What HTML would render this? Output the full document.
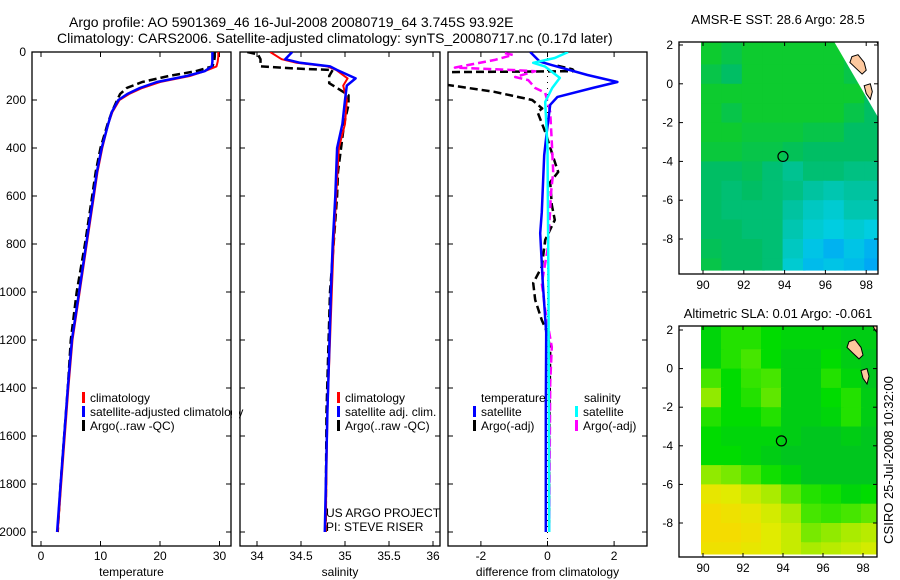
<!DOCTYPE html>
<html><head><meta charset="utf-8"><style>
html,body{margin:0;padding:0;background:#fff;}
svg{display:block;font-family:"Liberation Sans",sans-serif;}
text{font-size:12px;fill:#000;}
</style></head><body>
<svg id="fig" width="900" height="580" viewBox="0 0 900 580">
<defs>
<clipPath id="c1"><rect x="32" y="52" width="199" height="494"/></clipPath>
<clipPath id="c2"><rect x="240" y="52" width="200" height="494"/></clipPath>
<clipPath id="c3"><rect x="448" y="52" width="199" height="494"/></clipPath>
<clipPath id="m1"><rect x="679" y="42" width="199" height="232"/></clipPath>
<clipPath id="m2"><rect x="679" y="326" width="198" height="231"/></clipPath>
</defs>
<text x="69" y="27" style="font-size:14px">Argo profile: AO 5901369_46 16-Jul-2008 20080719_64 3.745S 93.92E</text>
<text x="57" y="43" style="font-size:14px">Climatology: CARS2006. Satellite-adjusted climatology: synTS_20080717.nc (0.17d later)</text>
<text x="778" y="24" text-anchor="middle" style="font-size:13px">AMSR-E SST: 28.6 Argo: 28.5</text>
<text x="778" y="318" text-anchor="middle" style="font-size:13px">Altimetric SLA: 0.01 Argo: -0.061</text>
<text transform="translate(893,460) rotate(-90)" text-anchor="middle" style="font-size:13px">CSIRO 25-Jul-2008 10:32:00</text>
<g id="g"></g>
</svg>
<script>
// ---- profile data ----
const tDepth = [0,20,40,60,80,100,125,150,175,200,250,300,400,500,600,800,1000,1200,1400,1600,1800,2000];
const tClim = [29.8,29.8,29.7,29.5,27.5,25,20,17,14.8,13.2,12,11.3,10.3,9.5,8.9,7.7,6.5,5.3,4.6,4.0,3.4,2.8];
const tSat = [28.8,28.8,28.8,28.7,27.5,24.5,19.5,16.6,14.5,13,11.9,11.3,10.2,9.4,8.8,7.6,6.4,5.2,4.5,3.9,3.3,2.7];
const tArgo = [29.2,29.2,29.1,28.8,26,21.5,17,14.4,13.3,12.8,11.9,11.2,10.0,9.2,8.6,7.4,6.0,5.0,4.5,3.9,3.3,2.8];
const sDepth = [0,30,45,60,75,110,140,200,300,400,600,800,1000,1500,2000];
const sSat = [34.40,34.32,34.49,34.83,34.91,35.12,35.02,35.0,34.97,34.91,34.89,34.86,34.84,34.80,34.77];
const sClim = [34.15,34.28,34.45,34.80,34.90,35.03,34.98,35.02,35.0,34.93,34.90,34.87,34.85,34.80,34.78];
const sArgoDepth = [0,10,30,60,70,75,100,130,150,180,220,300,500,600,800,1000,1500,2000];
const sArgo = [33.89,34.01,34.04,34.04,34.5,34.86,34.82,34.82,34.91,35.04,35.04,34.99,34.92,34.91,34.87,34.83,34.79,34.78];
const dTSatDepth = [0,40,55,96,125,150,187,220,333,430,667,755,963,1170,1500,2000];
const dTSat = [-0.52,-0.23,0.14,1.2,2.1,1.35,0.3,0.08,-0.02,-0.1,-0.17,-0.22,-0.14,-0.04,-0.05,-0.05];
const dSSatDepth = [0,25,45,60,108,150,208,400,1000,2000];
const dSSat = [0.62,0.22,-0.43,-0.08,0.37,0.14,-0.07,0,0.03,0.05];
const dTArgoDepth = [57,72,80,84,133,166,200,235,250,333,458,500,542,637,700,783,895,963,1033,1117,1171,1242,1600,2000];
const dTArgo = [0.3,0.75,0.8,-3.2,-3.2,-1.6,-0.46,-0.16,-0.3,-0.07,0.22,0.32,0.08,0.13,0.22,-0.07,-0.17,-0.43,-0.37,-0.17,0,0.08,0.05,0.05];
const dSArgoDepth = [5,12,33,65,75,80,104,117,150,170,250,375,500,596,660,825,963,1075,1229,1379,2000];
const dSArgo = [-1.28,-1.04,-1.58,-2.78,-1.06,-0.37,-0.97,-0.58,-0.37,-0.07,0.08,0.13,0.17,0.1,0.08,0,-0.17,-0.07,0.13,0.08,0.05];
const depthTicks = [0,200,400,600,800,1000,1200,1400,1600,1800,2000];
const tTicks = [0,10,20,30];
const sTicks = [34,34.5,35,35.5,36];
const dTicks = [-2,0,2];
// ---- map data (rows lat 2..-9.6, cols lon 90..98) ----
const sstGrid = [
[0.1,0.2,0.1,0.1,0.1,0.1,null,null,null],
[0.2,0.3,0.1,0.1,0.1,0.1,0.1,null,null],
[0.1,0.1,0.1,0.1,0.1,0.1,0.1,0.1,null],
[0.1,0.2,0.1,0.1,0.1,0.1,0.1,0.2,null],
[0.1,0.1,0.15,0.15,0.15,0.2,0.2,0.3,0.3],
[0.15,0.15,0.2,0.2,0.25,0.3,0.3,0.3,0.3],
[0.3,0.3,0.25,0.35,0.45,0.35,0.35,0.4,0.4],
[0.3,0.35,0.3,0.35,0.4,0.5,0.55,0.5,0.5],
[0.3,0.35,0.35,0.35,0.5,0.6,0.65,0.55,0.55],
[0.3,0.3,0.35,0.35,0.55,0.65,0.7,0.65,0.7],
[0.25,0.3,0.3,0.35,0.6,0.75,0.85,0.75,0.85],
[0.2,0.3,0.3,0.35,0.65,0.8,0.75,0.8,0.9]];
const sstMissingRow = [0.1,0.1,0.1,0.1,0.1,0.1,0.1,0.2,0.3];
const slaGrid = [
[0.15,0.3,0.3,0.2,0.15,0.15,0.15,0.1,0.1],
[0.15,0.3,0.4,0.2,0.1,0.1,0.2,0.1,0.05],
[0.4,0.2,0.35,0.4,0.1,0.1,0.3,0.15,0.05],
[0.55,0.2,0.3,0.45,0.1,0.1,0.2,0.3,0.1],
[0.3,0.2,0.2,0.3,0.1,0.1,0.15,0.3,0.1],
[0.2,0.15,0.15,0.15,0.1,0.05,0.05,0.1,0.05],
[0.2,0.2,0.15,0.1,0.05,0.05,0.05,0.05,0.05],
[0.55,0.5,0.4,0.25,0.15,0.05,0.05,0.05,0.05],
[0.85,0.8,0.7,0.6,0.45,0.3,0.25,0.15,0.2],
[0.95,0.9,0.85,0.75,0.6,0.4,0.35,0.4,0.45],
[0.95,0.95,0.9,0.8,0.7,0.5,0.55,0.6,0.65],
[0.9,0.9,0.85,0.8,0.7,0.6,0.65,0.7,0.75]];
const gridLons = [90,91,92,93,94,95,96,97,98];
const gridLatTops = [2,1,0,-1,-2,-3,-4,-5,-6,-7,-8,-9];
const mapLonTicks = [90,92,94,96,98];
const mapLatTicks = [2,0,-2,-4,-6,-8];
const argoLon = 93.92, argoLat = -3.745;

const NS="http://www.w3.org/2000/svg";
const G=document.getElementById('g');
function el(tag,attrs,parent){const e=document.createElementNS(NS,tag);for(const k in attrs)e.setAttribute(k,attrs[k]);(parent||G).appendChild(e);return e;}

const yD = d => 52 + d*0.24;
const xT = v => 41 + v*5.95;
const xS = v => 257 + (v-34)*88;
const xDf = v => 547.5 + v*33.3;

function box(x,y,w,h,name){const r=el('rect',{x:x,y:y,width:w,height:h,fill:'none',stroke:'#000','stroke-width':1.3});}
function line(x1,y1,x2,y2,name){const l=el('line',{x1:x1,y1:y1,x2:x2,y2:y2,stroke:'#000','stroke-width':1});}
function txt(x,y,s,anchor,name){const t=el('text',{x:x,y:y,'text-anchor':anchor||'start'});t.textContent=s;return t;}
function series(xs,ds,fx,color,w,dash,clip,name){
  const pts=xs.map((v,i)=>fx(v).toFixed(1)+','+yD(ds[i]).toFixed(1)).join(' ');
  const a={points:pts,fill:'none',stroke:color,'stroke-width':w,'clip-path':'url(#'+clip+')','stroke-linejoin':'round'};
  if(dash)a['stroke-dasharray']=dash;
  const p=el('polyline',a);
}
const panels=[{x:32,w:199,clip:'c1',ticks:tTicks,fx:xT,label:'temperature',name:'temperature'},
{x:240,w:200,clip:'c2',ticks:sTicks,fx:xS,label:'salinity',name:'salinity'},
{x:448,w:199,clip:'c3',ticks:dTicks,fx:xDf,label:'difference from climatology',name:'difference'}];
panels.forEach((p,pi)=>{
  box(p.x,52,p.w,494,p.name+'-panel-frame');
  depthTicks.forEach(d=>{
    line(p.x,yD(d),p.x+5,yD(d),'y-tick');
    line(p.x+p.w-5,yD(d),p.x+p.w,yD(d),'y-tick');
    if(pi===0)txt(26,yD(d)+4,String(d),'end','y-tick-label');
  });
  p.ticks.forEach(v=>{
    line(p.fx(v),546,p.fx(v),541,'x-tick');line(p.fx(v),52,p.fx(v),57,'x-tick');
    txt(p.fx(v),560,String(v),'middle','x-tick-label');
  });
  txt(p.x+p.w/2,576,p.label,'middle','x-axis-title');
});
series(tArgo,tDepth,xT,'#000',2.5,'8,4','c1','temperature-argo-line');
series(tClim,tDepth,xT,'#f00',2,null,'c1','temperature-climatology-line');
series(tSat,tDepth,xT,'#00f',2.5,null,'c1','temperature-satellite-line');
series(sArgo,sArgoDepth,xS,'#000',2.5,'8,4','c2','salinity-argo-line');
series(sClim,sDepth,xS,'#f00',2,null,'c2','salinity-climatology-line');
series(sSat,sDepth,xS,'#00f',2.5,null,'c2','salinity-satellite-line');
const zl=el('line',{x1:xDf(0),y1:52,x2:xDf(0),y2:546,stroke:'#000','stroke-width':1,'stroke-dasharray':'1,5'});


series(dTArgo,dTArgoDepth,xDf,'#000',2.5,'8,4','c3','diff-temperature-argo-line');
series(dSArgo,dSArgoDepth,xDf,'#f0f',2.5,'8,4','c3','diff-salinity-argo-line');
series(dTSat,dTSatDepth,xDf,'#00f',2.5,null,'c3','diff-temperature-satellite-line');
series(dSSat,dSSatDepth,xDf,'#0ff',2.5,null,'c3','diff-salinity-satellite-line');
// legends
function legEntry(bx,y,color,label){const r=el('rect',{x:bx,y:y-6,width:3,height:11,fill:color});txt(bx+8,y+4,label,'start','legend-entry');}
const lg1=[['#f00','climatology'],['#00f','satellite-adjusted climatology'],['#000','Argo(..raw -QC)']];
lg1.forEach((e,i)=>legEntry(82,398+i*14,e[0],e[1]));
const cover=el('rect',{x:232,y:385,width:7,height:50,fill:'#fff'});


line(231,385,231,435,'panel-edge');
const lg2=[['#f00','climatology'],['#00f','satellite adj. clim.'],['#000','Argo(..raw -QC)']];
lg2.forEach((e,i)=>legEntry(337,398+i*14,e[0],e[1]));
txt(481,402,'temperature','start','legend-heading');
txt(584,402,'salinity','start','legend-heading');
legEntry(473,412,'#00f','satellite');legEntry(473,426,'#000','Argo(-adj)');
legEntry(575,412,'#0ff','satellite');legEntry(575,426,'#f0f','Argo(-adj)');
txt(326,517,'US ARGO PROJECT','start','project-label');
txt(326,531,'PI: STEVE RISER','start','pi-label');

// ---- maps ----
function lerpColor(stops,v){for(let i=1;i<stops.length;i++){if(v<=stops[i][0]){const a=stops[i-1],b=stops[i],t=(v-a[0])/(b[0]-a[0]);return 'rgb('+[1,2,3].map(k=>Math.round(a[k]+(b[k]-a[k])*t)).join(',')+')';}}const l=stops[stops.length-1];return 'rgb('+l[1]+','+l[2]+','+l[3]+')';}
const sstStops=[[0,20,210,20],[0.3,0,190,100],[0.5,0,195,160],[0.7,0,205,225],[1,0,150,255]];
const slaStops=[[0,0,190,40],[0.2,0,220,0],[0.4,70,230,0],[0.6,170,235,0],[0.8,225,235,0],[1,250,215,0]];
const maps=[{grid:sstGrid,stops:sstStops,clip:'m1',x0:679,y0:42,w:199,h:232,lx:l=>703+(l-90)*20.4,ly:a=>45+(2-a)*19.4,name:'sst-map',missing:true},
{grid:slaGrid,stops:slaStops,clip:'m2',x0:679,y0:326,w:198,h:231,lx:l=>703+(l-90)*20,ly:a=>330+(2-a)*19.3,name:'sla-map',missing:false}];
const land=[[[98.45,2.3],[99.2,2.3],[99.2,1.3],[98.9,1.6],[98.6,2.0]],
[[97.3,1.4],[97.6,1.5],[97.9,1.1],[98.0,0.7],[97.8,0.5],[97.5,0.8],[97.2,1.1]],
[[97.9,-0.1],[98.2,0.0],[98.3,-0.4],[98.2,-0.8],[98.0,-0.5]],
[[98.8,-0.9],[99.2,-0.8],[99.2,-1.9],[98.9,-1.6],[98.7,-1.2]]];
const missingPoly=[[96.3,2.4],[99.2,2.4],[99.2,-2.4],[98.9,-2.3]];
maps.forEach(m=>{
  const g=el('g',{'clip-path':'url(#'+m.clip+')'});
  
  
  m.grid.forEach((row,ri)=>row.forEach((v,ci)=>{
    if(v===null){ if(!m.missing) return; v=sstMissingRow[ci]; }
    const top=gridLatTops[ri], bot=ri===gridLatTops.length-1?-9.6:top-1;
    const t=ri===0?3:top;
    const x1=m.lx(gridLons[ci]-0.1), x2=m.lx(gridLons[ci]+1+(ci===row.length-1?1:0));
    const c=el('rect',{x:x1.toFixed(1),y:m.ly(t).toFixed(1),width:(x2-x1+0.6).toFixed(1),height:(m.ly(bot)-m.ly(t)+0.6).toFixed(1),fill:lerpColor(m.stops,v)},g);
    
    
  }));
  if(m.missing){
    const mp=el('polygon',{points:missingPoly.map(q=>m.lx(q[0]).toFixed(1)+','+m.ly(q[1]).toFixed(1)).join(' '),fill:'#fff'},g);
    
    
  }
  land.forEach(poly=>{
    const p=el('polygon',{points:poly.map(q=>m.lx(q[0]).toFixed(1)+','+m.ly(q[1]).toFixed(1)).join(' '),fill:'#fdc89e',stroke:'#000','stroke-width':1},g);
    
    
  });
  const ci=el('circle',{cx:m.lx(argoLon),cy:m.ly(argoLat),r:5,fill:'none',stroke:'#000','stroke-width':1.2});
  
  
  box(m.x0,m.y0,m.w,m.h,m.name+'-frame');
  const yb=m.y0+m.h;
  mapLonTicks.forEach(l=>{line(m.lx(l),yb,m.lx(l),yb-4,'map-x-tick');line(m.lx(l),m.y0,m.lx(l),m.y0+4,'map-x-tick');txt(m.lx(l),yb+15,String(l),'middle','map-x-tick-label');});
  mapLatTicks.forEach(a=>{line(m.x0,m.ly(a),m.x0+4,m.ly(a),'map-y-tick');line(m.x0+m.w-4,m.ly(a),m.x0+m.w,m.ly(a),'map-y-tick');txt(m.x0-6,m.ly(a)+4,String(a),'end','map-y-tick-label');});
});
</script>
</body></html>
